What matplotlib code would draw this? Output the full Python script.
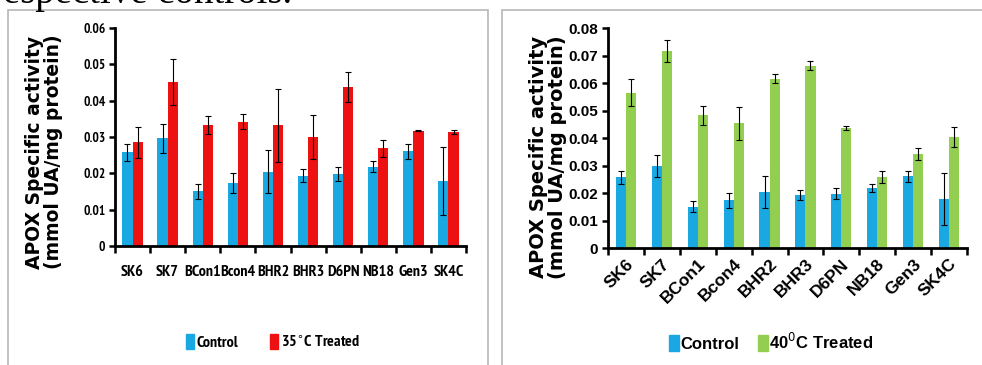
import matplotlib
matplotlib.use("Agg")
import matplotlib.pyplot as plt
import matplotlib.patches as mpatches
from matplotlib import font_manager as fm
import numpy as np

categories = ["SK6", "SK7", "BCon1", "Bcon4", "BHR2", "BHR3", "D6PN", "NB18", "Gen3", "SK4C"]
control = [0.0258, 0.0297, 0.0151, 0.0173, 0.0205, 0.0194, 0.0198, 0.0218, 0.0261, 0.0178]
control_err = [0.0024, 0.0040, 0.0021, 0.0027, 0.0058, 0.0018, 0.0020, 0.0015, 0.0021, 0.0094]
t35 = [0.0285, 0.0451, 0.0332, 0.0342, 0.0332, 0.0300, 0.0437, 0.0269, 0.0317, 0.0314]
t35_err = [0.0042, 0.0063, 0.0025, 0.0021, 0.0101, 0.0060, 0.0042, 0.0024, 0.0001, 0.0006]
t40 = [0.0566, 0.0718, 0.0483, 0.0455, 0.0617, 0.0664, 0.0436, 0.0260, 0.0342, 0.0403]
t40_err = [0.0050, 0.0040, 0.0035, 0.0060, 0.0018, 0.0017, 0.0008, 0.0022, 0.0023, 0.0036]
yticks_left = [0, 0.01, 0.02, 0.03, 0.04, 0.05, 0.06]
yticks_right = [0, 0.01, 0.02, 0.03, 0.04, 0.05, 0.06, 0.07, 0.08]

BLUE = "#1aa8e3"
RED = "#ee1111"
GREEN = "#92cf50"


def _w(v):
    if isinstance(v, str):
        return fm.weight_dict.get(v, 400)
    return v


def _s(v):
    if isinstance(v, str):
        return fm.stretch_dict.get(v, 500)
    return v


# find an upright condensed / narrow face, preferring one with a bold weight
cands = []
for f in fm.fontManager.ttflist:
    narrowish = ("Narrow" in f.name or "Condensed" in f.name or _s(f.stretch) < 500)
    if narrowish:
        cands.append((0 if f.style == "normal" else 1,
                      0 if _w(f.weight) >= 600 else 1,
                      0 if "Narrow" in f.name else 1,
                      f.name, _s(f.stretch), _w(f.weight)))
cands.sort()
if cands and cands[0][0] == 0:
    narrow_font, narrow_stretch, narrow_weight = cands[0][3], cands[0][4], cands[0][5]
    narrow_scale = 1.0
    if narrow_weight < 600:
        narrow_weight = "bold"
else:
    narrow_font, narrow_stretch, narrow_weight = "Liberation Sans", 500, "bold"
    narrow_scale = 0.82

W, H = 982, 365
fig = plt.figure(figsize=(W / 100, H / 100), dpi=100)


def fx(px):
    return px / W


def fy(py):
    return 1 - py / H


# top cropped paragraph text
fig.text(fx(292), fy(3), "respective controls.", family="Liberation Serif",
         fontsize=28, va="baseline", ha="right")

# panel boxes
fig.patches.append(mpatches.Rectangle((fx(8), fy(400)), fx(480), fy(10) - fy(400),
                                      transform=fig.transFigure, fill=False,
                                      edgecolor="#b8b8b8", lw=1.2))
fig.patches.append(mpatches.Rectangle((fx(502), fy(400)), fx(500), fy(10) - fy(400),
                                      transform=fig.transFigure, fill=False,
                                      edgecolor="#b8b8b8", lw=1.2))

narrow = dict(family=[narrow_font, "Liberation Sans", "DejaVu Sans"],
              fontstretch=narrow_stretch, fontweight=narrow_weight, fontstyle="normal")
arial = ["Liberation Sans", "DejaVu Sans"]


def style_axes(ax, ymax, yticks, tickfont_kw, tsize):
    x = np.arange(len(categories))
    ax.set_xlim(-0.5, len(categories) - 0.5)
    ax.set_ylim(0, ymax)
    for s in ["top", "right"]:
        ax.spines[s].set_visible(False)
    for s in ["left", "bottom"]:
        ax.spines[s].set_linewidth(2)
        ax.spines[s].set_color("black")
    ax.set_yticks(yticks)
    ax.set_yticklabels([("0" if v == 0 else f"{v:.2f}") for v in yticks],
                       fontsize=tsize, **tickfont_kw)
    ax.set_xticks(np.arange(len(categories) + 1) - 0.5, minor=False)
    ax.set_xticklabels([])
    ax.set_xticks(x, minor=True)
    ax.tick_params(axis="x", which="major", length=5, width=1.8, direction="out")
    ax.tick_params(axis="x", which="minor", length=0)
    ax.tick_params(axis="y", length=4, width=1.8, direction="out", pad=3)
    return x


ek = dict(ecolor="black", elinewidth=0.8, capsize=2.2, capthick=0.8)

# left chart
axL = fig.add_axes([fx(115), fy(246), fx(351), fy(28) - fy(246)])
x = style_axes(axL, 0.06, yticks_left, narrow, 9.5 * narrow_scale)
bw = 0.29
axL.bar(x - bw / 2, control, bw, color=BLUE, yerr=control_err, error_kw=ek, zorder=2)
axL.bar(x + bw / 2, t35, bw, color=RED, yerr=t35_err, error_kw=ek, zorder=2)
axL.set_xticklabels(categories, minor=True, fontsize=11.5 * narrow_scale, **narrow)
axL.tick_params(axis="x", which="minor", pad=14)
fig.text(fx(44), fy(152), "APOX Specific activity\n(mmol UA/mg protein)", rotation=90,
         ha="center", va="center", family=["DejaVu Sans"], fontsize=13.5, fontweight="bold",
         linespacing=1.0)
hL = [mpatches.Patch(color=BLUE), mpatches.Patch(color=RED)]
fig.legend(hL, ["Control", "35$^{\\circ}$C Treated"], loc="center",
           bbox_to_anchor=(fx(273), fy(342)), ncol=2, frameon=False,
           prop=fm.FontProperties(family=narrow["family"], stretch=narrow_stretch,
                                  size=11.5 * narrow_scale, weight=narrow_weight,
                                  style="normal"),
           handlelength=0.5, handleheight=1.1, handletextpad=0.15,
           columnspacing=2.0)

# right chart
axR = fig.add_axes([fx(608), fy(248), fx(359), fy(28.3) - fy(248)])
x = style_axes(axR, 0.08, yticks_right, dict(family=arial, fontweight=700), 11)
bw = 0.28
axR.bar(x - bw / 2, control, bw, color=BLUE, yerr=control_err, error_kw=ek, zorder=2)
axR.bar(x + bw / 2, t40, bw, color=GREEN, yerr=t40_err, error_kw=ek, zorder=2)
axR.set_xticklabels(categories, minor=True, family=arial, fontsize=12.5, fontweight=700,
                    rotation=45, ha="right", rotation_mode="anchor")
axR.tick_params(axis="x", which="minor", pad=6)
fig.text(fx(548), fy(157), "APOX Specific activity\n(mmol UA/mg protein)", rotation=90,
         ha="center", va="center", family=["DejaVu Sans"], fontsize=14, fontweight="bold",
         linespacing=1.0)
hR = [mpatches.Patch(color=BLUE), mpatches.Patch(color=GREEN)]
fig.legend(hR, ["Control", "40$^{0}$C Treated"], loc="center",
           bbox_to_anchor=(fx(771), fy(342)), ncol=2, frameon=False,
           prop=fm.FontProperties(family=arial, size=12, weight=700),
           handlelength=0.6, handleheight=1.1, handletextpad=0.1,
           columnspacing=1.1)

fig.savefig("out.png", dpi=100)
